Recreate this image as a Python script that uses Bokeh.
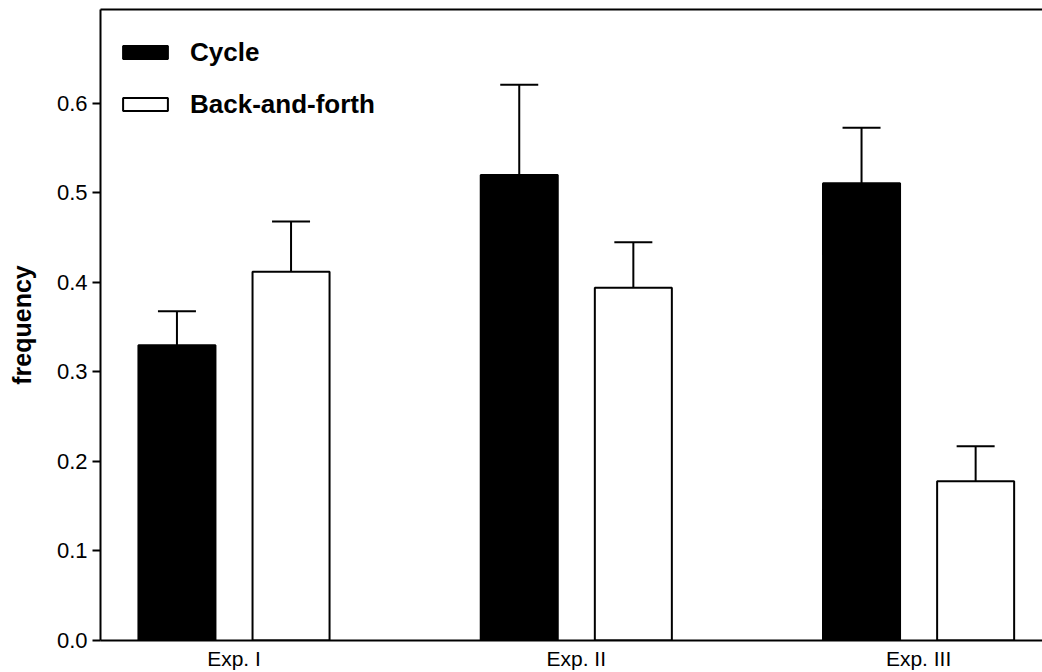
from bokeh.plotting import figure
from bokeh.models import (ColumnDataSource, Range1d, FixedTicker, LinearAxis,
                          Whisker, TeeHead, Legend, LegendItem, NumeralTickFormatter)
from bokeh.embed import file_html
from bokeh.resources import INLINE

experiments = ["Exp. I", "Exp. II", "Exp. III"]
series_names = ["Cycle", "Back-and-forth"]
cycle_mean = [0.330, 0.520, 0.511]
cycle_err = [0.038, 0.101, 0.062]
bf_mean = [0.412, 0.394, 0.178]
bf_err = [0.056, 0.051, 0.039]
y_ticks = [0.0, 0.1, 0.2, 0.3, 0.4, 0.5, 0.6]

FONT = "Liberation Sans"
OFFSET = 1 / 6
BAR_W = 0.225

group_pos = list(range(len(experiments)))

p = figure(width=1042, height=672, output_backend="svg", toolbar_location=None,
           x_range=Range1d(-0.390, 2.362), y_range=Range1d(0, 0.705),
           min_border_left=100, min_border_right=0, min_border_top=9, min_border_bottom=0)
p.xgrid.visible = False
p.ygrid.visible = False
p.outline_line_color = None
p.background_fill_color = "white"
p.border_fill_color = "white"

def make_source(means, errs, shift):
    return ColumnDataSource(dict(
        x=[g + shift for g in group_pos],
        top=means,
        upper=[m + e for m, e in zip(means, errs)],
    ))

src_c = make_source(cycle_mean, cycle_err, -OFFSET)
src_b = make_source(bf_mean, bf_err, OFFSET)

r_c = p.vbar(x="x", top="top", width=BAR_W, source=src_c,
             fill_color="black", line_color="black", line_width=2)
r_b = p.vbar(x="x", top="top", width=BAR_W, source=src_b,
             fill_color="white", line_color="black", line_width=2)

for src in (src_c, src_b):
    w = Whisker(source=src, base="x", upper="upper", lower="top",
                upper_head=TeeHead(size=38, line_width=2, line_color="black"),
                lower_head=None, line_width=2, line_color="black")
    p.add_layout(w)

# x axis
xa = p.xaxis[0]
xa.ticker = FixedTicker(ticks=group_pos)
xa.major_label_overrides = {g: name for g, name in zip(group_pos, experiments)}
xa.major_tick_line_color = None
xa.minor_tick_line_color = None
xa.major_label_text_font = FONT
xa.major_label_text_font_size = "21px"
xa.major_label_text_color = "black"
xa.major_label_standoff = 0
xa.axis_line_width = 2
xa.axis_line_color = "black"

# y axis
ya = p.yaxis[0]
ya.ticker = FixedTicker(ticks=y_ticks)
ya.formatter = NumeralTickFormatter(format="0.0")
ya.major_tick_out = 8
ya.major_tick_in = 0
ya.major_tick_line_width = 2
ya.minor_tick_line_color = None
ya.major_label_text_font = FONT
ya.major_label_text_font_size = "22px"
ya.major_label_text_color = "black"
ya.major_label_standoff = 5
ya.axis_line_width = 2
ya.axis_label = "frequency"
ya.axis_label_text_font = FONT
ya.axis_label_text_font_size = "25px"
ya.axis_label_text_font_style = "bold"
ya.axis_label_text_color = "black"
ya.axis_label_standoff = 18

# top border
top = LinearAxis(ticker=FixedTicker(ticks=[]), major_label_text_font_size="0px",
                 major_tick_line_color=None, minor_tick_line_color=None,
                 axis_line_width=2, axis_line_color="black")
p.add_layout(top, "above")

legend = Legend(items=[LegendItem(label=series_names[0], renderers=[r_c]),
                       LegendItem(label=series_names[1], renderers=[r_b])],
                location="top_left", margin=17, padding=0, spacing=-6,
                glyph_width=56, glyph_height=16, label_height=52,
                label_standoff=17, label_text_font=FONT,
                label_text_font_size="26px", label_text_font_style="bold",
                label_text_color="black",
                background_fill_alpha=0, border_line_color=None)
p.add_layout(legend)

open("out.html", "w").write(file_html(p, INLINE))
